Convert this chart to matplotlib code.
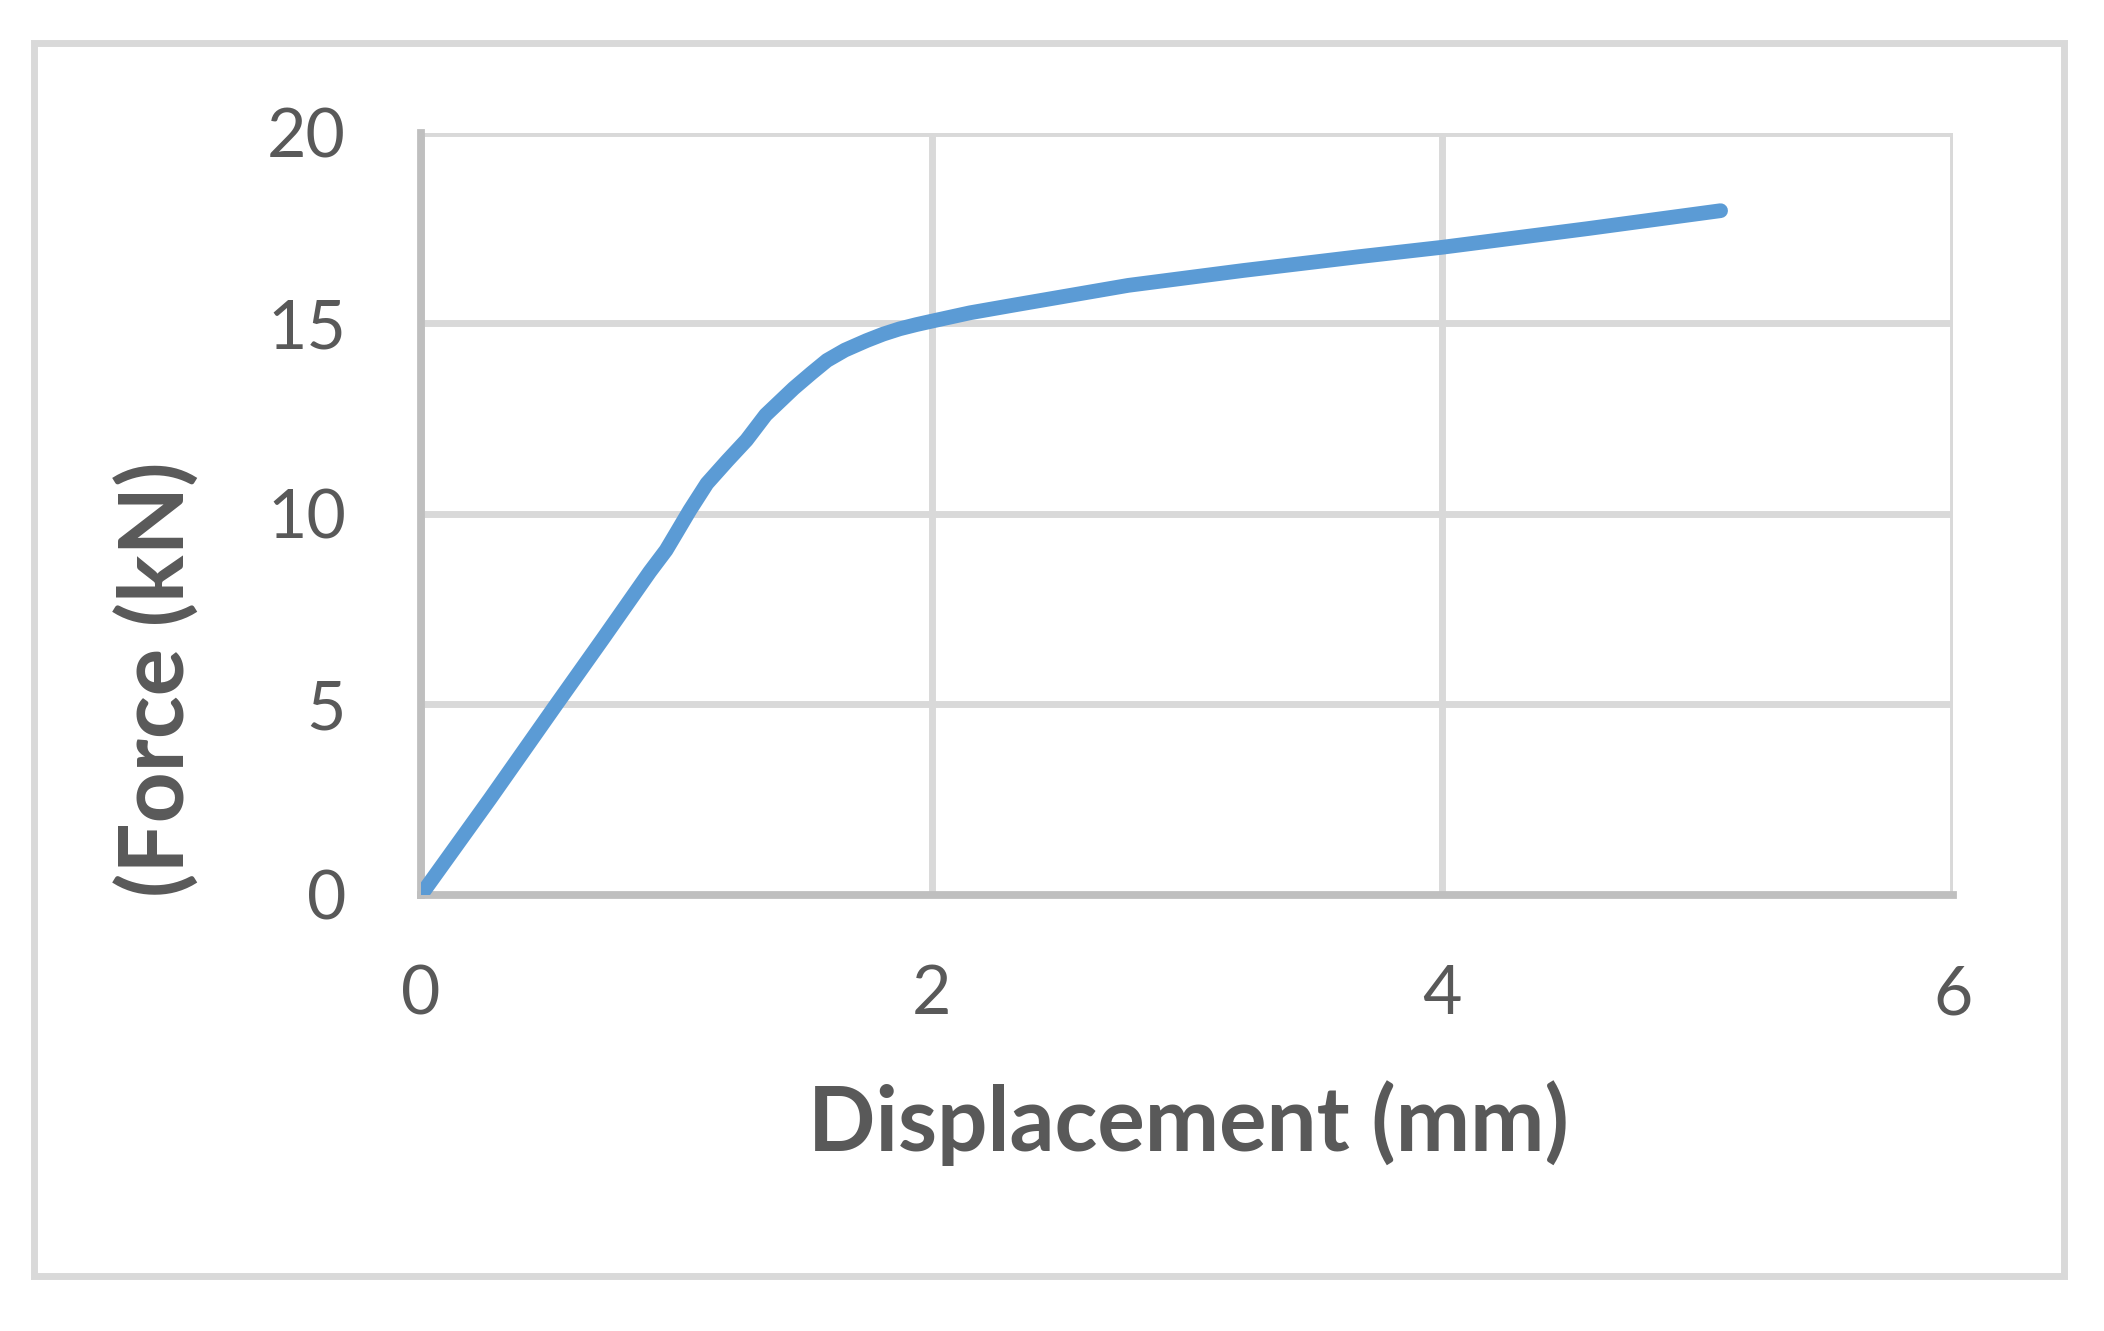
import matplotlib
matplotlib.use("Agg")
import matplotlib.pyplot as plt
from matplotlib.patches import Rectangle

displacement = [0.0, 0.27, 0.53, 0.712, 0.896, 0.96, 1.0, 1.053, 1.12, 1.20, 1.275, 1.35, 1.46, 1.53, 1.59, 1.66, 1.745, 1.81,
                1.875, 1.94, 2.0, 2.15, 2.32, 2.77, 3.22, 3.67, 4.0, 4.57, 5.09]
force = [0.0, 2.52, 5.0, 6.72, 8.48, 9.05, 9.5, 10.1, 10.8, 11.4, 11.94, 12.6, 13.3, 13.7, 14.03, 14.3, 14.55, 14.72,
         14.86, 14.97, 15.06, 15.28, 15.48, 16.0, 16.39, 16.75, 17.0, 17.49, 17.96]
xticks = [0, 2, 4, 6]
yticks = [0, 5, 10, 15, 20]

textColor = "#595959"
gridColor = "#d9d9d9"
axisColor = "#bfbfbf"
plt.rcParams["font.family"] = ["Lato", "DejaVu Sans"]

figure = plt.figure(figsize = (10.52, 6.655), dpi = 200)
figure.patches.append(Rectangle((0.0162, 0.0413), 0.9648, 0.9264, transform = figure.transFigure,
                                fill = False, edgecolor = gridColor, linewidth = 2.5))
axes = figure.add_axes([0.2001, 0.3276, 0.7281, 0.5725])
axes.plot(displacement, force, color = "#5b9bd5", linewidth = 5.3, solid_capstyle = "round", solid_joinstyle = "round", zorder = 3)
axes.set_xlim(0, 6)
axes.set_ylim(0, 20)
axes.set_xticks(xticks)
axes.set_yticks(yticks)
axes.grid(True, color = gridColor, linewidth = 2.5)
axes.set_axisbelow(True)
for side in ["top", "right"]:
    axes.spines[side].set_visible(False)
for side in ["left", "bottom"]:
    axes.spines[side].set_color(axisColor)
    axes.spines[side].set_linewidth(2.8)
axes.tick_params(length = 0, labelsize = 24.5, labelcolor = textColor)
axes.tick_params(axis = "x", pad = 25)
axes.tick_params(axis = "y", pad = 27)
axes.set_xlabel("Displacement (mm)", fontsize = 32, fontweight = "bold", color = textColor)
axes.set_ylabel("(Force (kN)", fontsize = 32, fontweight = "bold", color = textColor)
axes.xaxis.set_label_coords(0.501, -0.30)
axes.yaxis.set_label_coords(-0.172, 0.283)
axes.xaxis.label.set_verticalalignment("center")
axes.yaxis.label.set_verticalalignment("center")
figure.savefig("out.png", dpi = 200)
